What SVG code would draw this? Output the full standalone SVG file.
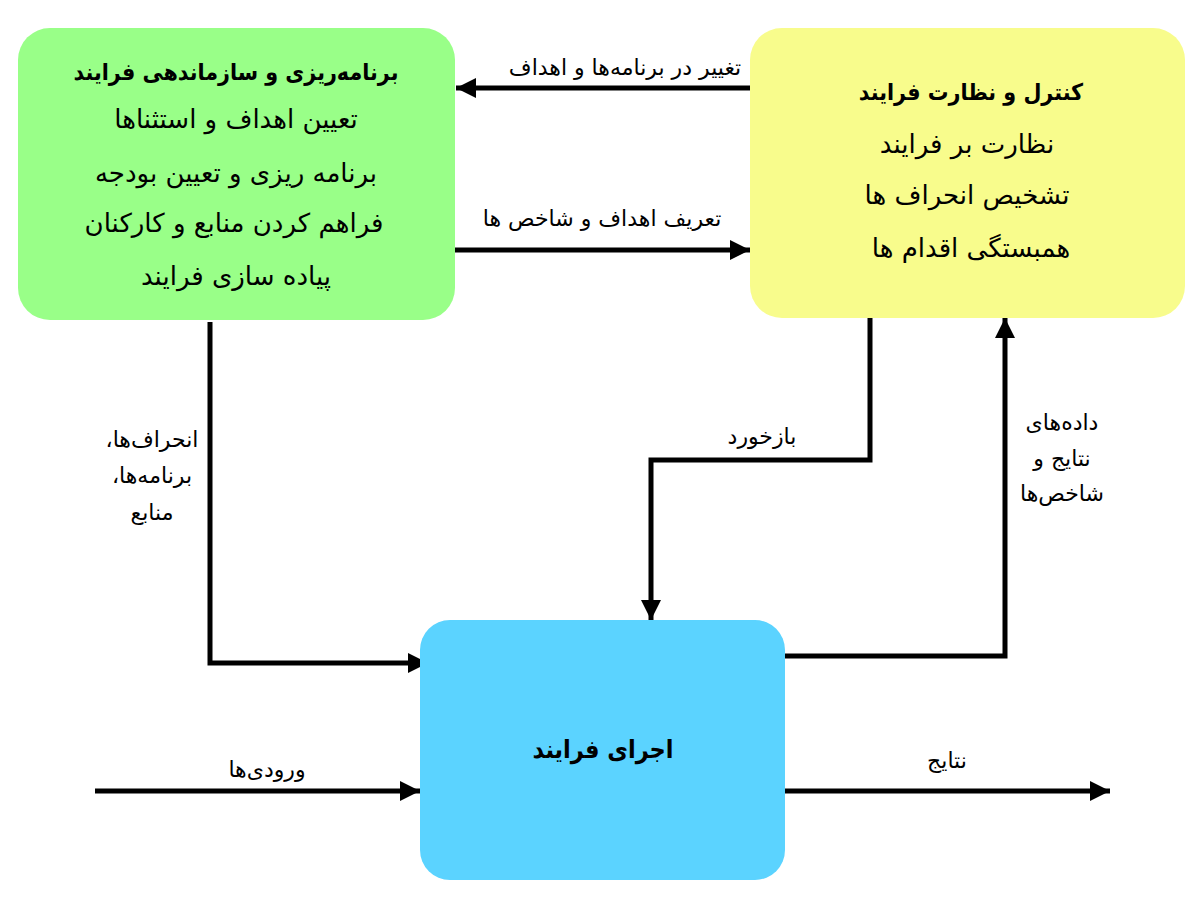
<svg xmlns="http://www.w3.org/2000/svg" width="1204" height="916" viewBox="0 0 1204 916">
<defs>
<marker id="ah" markerUnits="userSpaceOnUse" markerWidth="22" markerHeight="22" viewBox="0 0 22 22" refX="20" refY="11" orient="auto">
<path d="M0,1 L20,11 L0,21 Z" fill="#000"/>
</marker>
<style>
.t{font-family:"DejaVu Sans","Noto Sans",sans-serif;fill:#000;text-anchor:middle;direction:rtl}
.b{font-size:26px}
.h{font-family:"DejaVu Sans Condensed","DejaVu Sans",sans-serif;font-size:23px;font-weight:bold}
.l{font-size:22px}
.c{fill:none;stroke:#000;stroke-width:5;marker-end:url(#ah)}
</style>
</defs>
<rect width="1204" height="916" fill="#fff"/>
<g id="connectors">
<line class="c" x1="750" y1="88" x2="456" y2="88"/>
<line class="c" x1="455" y1="250" x2="750" y2="250"/>
<polyline class="c" points="210,322 210,663 428,663"/>
<polyline class="c" points="870,315 870,460 651,460 651,620"/>
<polyline class="c" points="784,656 1005,656 1005,318"/>
<line class="c" x1="95" y1="791" x2="420" y2="791"/>
<line class="c" x1="785" y1="791" x2="1110" y2="791"/>
<text class="t l" x="625" y="75" direction="rtl">تغییر در برنامه‌ها و اهداف</text>
<text class="t l" x="602" y="226" direction="rtl">تعریف اهداف و شاخص ها</text>
<text class="t l" x="152" y="447" direction="rtl">انحراف‌ها،</text>
<text class="t l" x="152" y="483" direction="rtl">برنامه‌ها،</text>
<text class="t l" x="152" y="520" direction="rtl">منابع</text>
<text class="t l" x="762" y="444" direction="rtl">بازخورد</text>
<text class="t l" x="1062" y="430" direction="rtl">داده‌های</text>
<text class="t l" x="1062" y="466" direction="rtl">نتایج و</text>
<text class="t l" x="1062" y="501" direction="rtl">شاخص‌ها</text>
<text class="t l" x="267" y="777" direction="rtl">ورودی‌ها</text>
<text class="t l" x="947" y="768" direction="rtl">نتایج</text>
</g>
<g id="planning">
<rect x="18" y="28" width="437" height="292" rx="32" fill="#99FF88"/>
<text class="t h" x="236" y="80" direction="rtl">برنامه‌ریزی و سازماندهی فرایند</text>
<text class="t b" x="236" y="128" direction="rtl">تعیین اهداف و استثناها</text>
<text class="t b" x="236" y="182" direction="rtl">برنامه ریزی و تعیین بودجه</text>
<text class="t b" x="234" y="232" direction="rtl">فراهم کردن منابع و کارکنان</text>
<text class="t b" x="236" y="285" direction="rtl">پیاده سازی فرایند</text>
</g>
<g id="control">
<rect x="750" y="28" width="435" height="290" rx="32" fill="#F8FC8C"/>
<text class="t h" x="971" y="100" direction="rtl">کنترل و نظارت فرایند</text>
<text class="t b" x="967" y="153" direction="rtl">نظارت بر فرایند</text>
<text class="t b" x="967" y="204" direction="rtl">تشخیص انحراف ها</text>
<text class="t b" x="971" y="257" direction="rtl">همبستگی اقدام ها</text>
</g>
<g id="execution">
<rect x="420" y="620" width="365" height="260" rx="30" fill="#5BD3FF"/>
<text class="t h" x="603" y="758" direction="rtl" style="font-size:25px">اجرای فرایند</text>
</g>
</svg>
